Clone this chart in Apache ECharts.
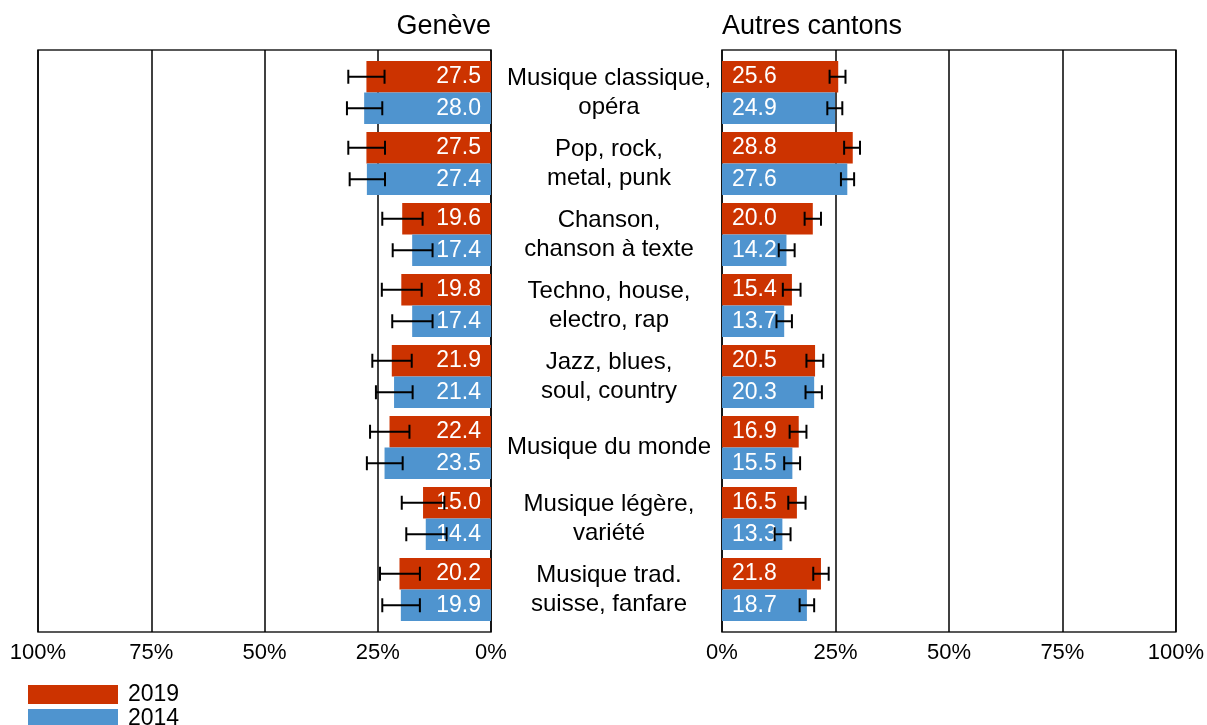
<!DOCTYPE html>
<html>
<head>
<meta charset="utf-8">
<script src="https://cdn.jsdelivr.net/npm/echarts@6/dist/echarts.min.js"></script>
<style>
  html, body { margin: 0; padding: 0; background: #fff; }
  #chart { width: 1207px; height: 725px; }
</style>
</head>
<body>
<div id="chart"></div>
<script>
const categories = [
  'Musique classique,\nopéra',
  'Pop, rock,\nmetal, punk',
  'Chanson,\nchanson à texte',
  'Techno, house,\nelectro, rap',
  'Jazz, blues,\nsoul, country',
  'Musique du monde',
  'Musique légère,\nvariété',
  'Musique trad.\nsuisse, fanfare'
]
const xTicks = [0, 25, 50, 75, 100]

const geneve2019 = [27.5, 27.5, 19.6, 19.8, 21.9, 22.4, 15.0, 20.2]
const geneve2014 = [28.0, 27.4, 17.4, 17.4, 21.4, 23.5, 14.4, 19.9]
const geneve2019Low = [23.5, 23.4, 15.1, 15.3, 17.5, 18.0, 10.3, 15.7]
const geneve2019High = [31.5, 31.5, 24.0, 24.1, 26.2, 26.7, 19.7, 24.5]
const geneve2014Low = [24.0, 23.4, 12.9, 12.9, 17.3, 19.5, 9.8, 15.7]
const geneve2014High = [31.8, 31.2, 21.7, 21.8, 25.4, 27.4, 18.7, 24.0]

const autres2019 = [25.6, 28.8, 20.0, 15.4, 20.5, 16.9, 16.5, 21.8]
const autres2014 = [24.9, 27.6, 14.2, 13.7, 20.3, 15.5, 13.3, 18.7]
const autres2019Low = [23.7, 26.9, 18.2, 13.4, 18.6, 14.9, 14.6, 20.1]
const autres2019High = [27.2, 30.4, 21.8, 17.3, 22.3, 18.6, 18.4, 23.5]
const autres2014Low = [23.2, 26.2, 12.5, 12.0, 18.4, 13.7, 11.6, 17.1]
const autres2014High = [26.5, 29.1, 16.0, 15.4, 22.0, 17.2, 15.1, 20.3]

const RED = '#cc3300'
const BLUE = '#4f94cf'
const FONT = 'Liberation Sans, Arial, sans-serif'
const BAR_WIDTH = 31.5

const chart = echarts.init(document.getElementById('chart'))

function errorData(low, high) {
  return low.map((lo, i) => [i, lo, high[i]])
}

function errorRenderer(offset) {
  return function (params, api) {
    const cat = api.value(0)
    const a = api.coord([api.value(1), cat])
    const b = api.coord([api.value(2), cat])
    const y = a[1] + offset
    const cap = 7
    const style = { stroke: '#000', lineWidth: 2 }
    return {
      type: 'group',
      children: [
        { type: 'line', shape: { x1: a[0], y1: y, x2: b[0], y2: y }, style },
        { type: 'line', shape: { x1: a[0], y1: y - cap, x2: a[0], y2: y + cap }, style },
        { type: 'line', shape: { x1: b[0], y1: y - cap, x2: b[0], y2: y + cap }, style },
      ],
    }
  }
}

function frameXAxis(gridIndex, inverse) {
  return {
    type: 'value',
    gridIndex,
    inverse,
    min: xTicks[0],
    max: xTicks[xTicks.length - 1],
    interval: 25,
    axisLine: { show: false },
    axisTick: { show: false },
    axisLabel: { color: '#000', fontSize: 22, fontFamily: FONT, margin: 10, formatter: '{value}%' },
    splitLine: { lineStyle: { color: '#000', width: 1.5 } },
  }
}

function barXAxis(gridIndex, inverse) {
  return {
    type: 'value',
    gridIndex,
    inverse,
    min: 0,
    max: 100,
    show: false,
    splitLine: { show: false },
  }
}

function barSeries(name, axis, data, color, labelPos) {
  return {
    name,
    type: 'bar',
    xAxisIndex: axis,
    yAxisIndex: axis,
    data,
    barWidth: BAR_WIDTH,
    barGap: '0%',
    itemStyle: { color },
    label: {
      show: true,
      position: labelPos,
      distance: 10,
      color: '#fff',
      fontSize: 23,
      fontFamily: FONT,
      formatter: (p) => p.value.toFixed(1),
    },
  }
}

function errorSeries(axis, low, high, offset) {
  return {
    type: 'custom',
    xAxisIndex: axis,
    yAxisIndex: axis,
    z: 10,
    silent: true,
    encode: { x: [1, 2], y: 0 },
    data: errorData(low, high),
    renderItem: errorRenderer(offset),
  }
}

chart.setOption({
  animation: false,
  backgroundColor: '#fff',
  textStyle: { fontFamily: FONT },
  title: [
    { text: 'Genève', right: 711, top: 8, textStyle: { fontSize: 27, fontWeight: 'normal', color: '#000', fontFamily: FONT } },
    { text: 'Autres cantons', left: 717, top: 8, textStyle: { fontSize: 27, fontWeight: 'normal', color: '#000', fontFamily: FONT } },
  ],
  legend: {
    orient: 'vertical',
    left: 23,
    top: 678,
    height: 120,
    padding: 5,
    itemWidth: 90,
    itemHeight: 19,
    itemGap: 1,
    icon: 'rect',
    data: ['2019', '2014'],
    textStyle: { fontSize: 23, lineHeight: 19, color: '#000', fontFamily: FONT, padding: [0, 0, 0, 5] },
  },
  grid: [
    { left: 38, right: 716, top: 50, bottom: 93, show: true, borderColor: '#222', borderWidth: 1.5 },
    { left: 38, right: 716, top: 57, bottom: 100 },
    { left: 722, right: 31, top: 50, bottom: 93, show: true, borderColor: '#222', borderWidth: 1.5 },
    { left: 722, right: 31, top: 57, bottom: 100 },
  ],
  xAxis: [
    frameXAxis(0, true),
    barXAxis(1, true),
    frameXAxis(2, false),
    barXAxis(3, false),
  ],
  yAxis: [
    { type: 'category', gridIndex: 0, data: categories, show: false },
    {
      type: 'category',
      gridIndex: 1,
      data: categories,
      inverse: true,
      position: 'right',
      axisLine: { show: false },
      axisTick: { show: false },
      axisLabel: {
        interval: 0,
        margin: 118,
        align: 'center',
        color: '#000',
        fontSize: 24,
        lineHeight: 29,
        fontFamily: FONT,
      },
    },
    { type: 'category', gridIndex: 2, data: categories, show: false },
    { type: 'category', gridIndex: 3, data: categories, inverse: true, show: false },
  ],
  series: [
    barSeries('2019', 1, geneve2019, RED, 'insideRight'),
    barSeries('2014', 1, geneve2014, BLUE, 'insideRight'),
    errorSeries(1, geneve2019Low, geneve2019High, -BAR_WIDTH / 2),
    errorSeries(1, geneve2014Low, geneve2014High, BAR_WIDTH / 2),
    barSeries('2019', 3, autres2019, RED, 'insideLeft'),
    barSeries('2014', 3, autres2014, BLUE, 'insideLeft'),
    errorSeries(3, autres2019Low, autres2019High, -BAR_WIDTH / 2),
    errorSeries(3, autres2014Low, autres2014High, BAR_WIDTH / 2),
  ],
})
</script>
</body>
</html>
